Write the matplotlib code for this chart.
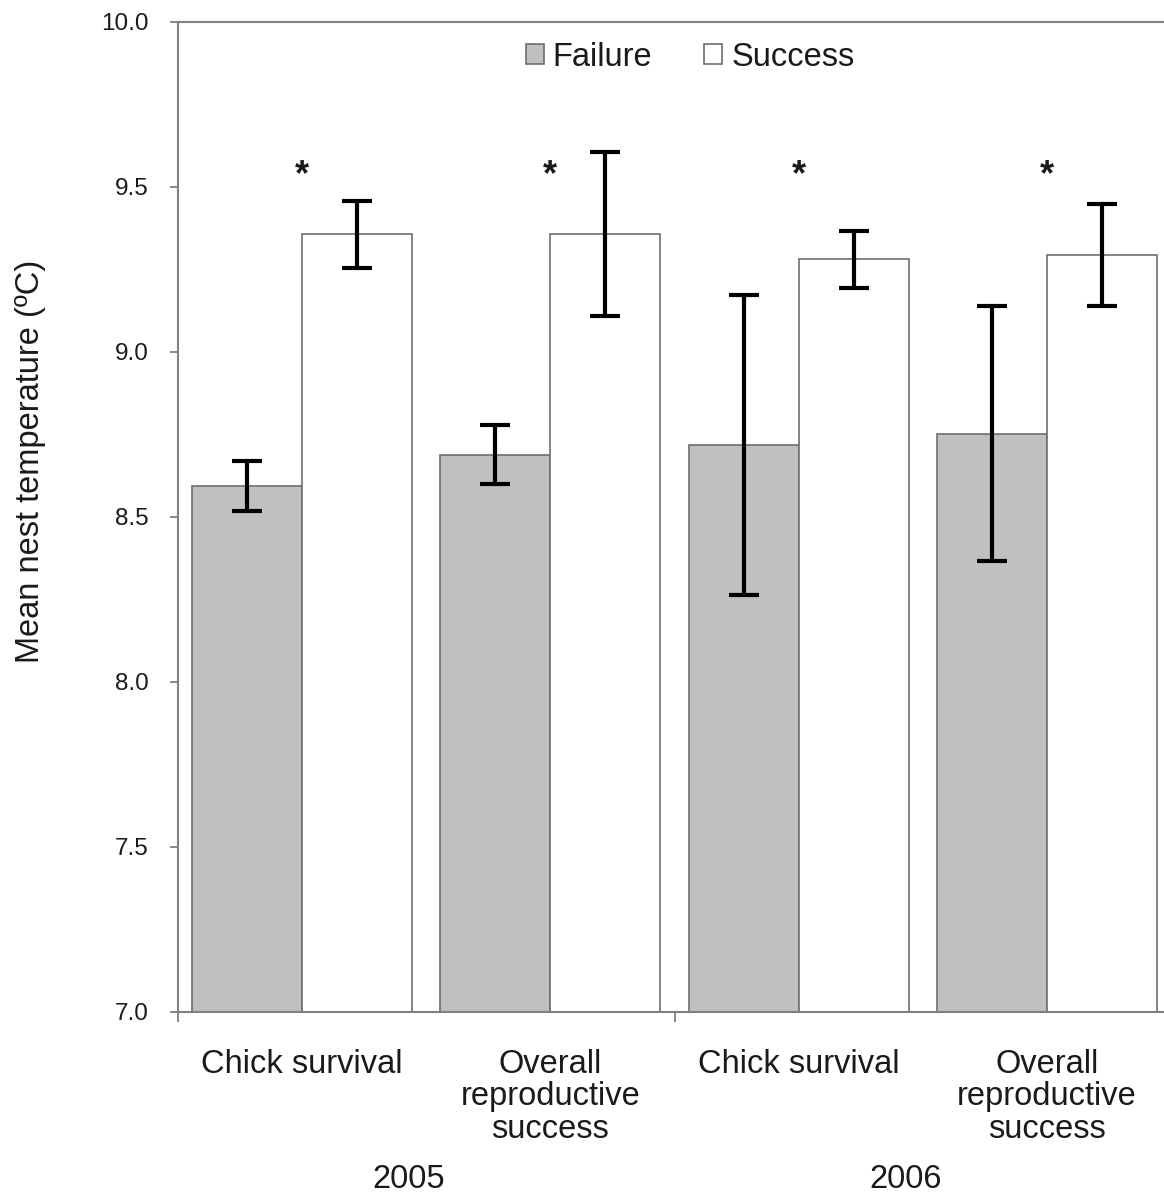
import matplotlib
matplotlib.use('Agg')
import matplotlib.pyplot as plt
import matplotlib.transforms as mtransforms
import numpy as np

plt.rcParams['font.family'] = ['Liberation Sans', 'DejaVu Sans']

# data
categories = ['Chick survival', 'Overall\nreproductive\nsuccess',
              'Chick survival', 'Overall\nreproductive\nsuccess']
years = ['2005', '2006']
failure = [8.594, 8.689, 8.718, 8.752]
failure_se = [0.075, 0.089, 0.455, 0.386]
success = [9.357, 9.357, 9.281, 9.293]
success_se = [0.102, 0.249, 0.087, 0.154]
significant = [True, True, True, True]

txt = '#1a1a1a'
fig = plt.figure(figsize=(11.64, 11.94), dpi=100)
ax = fig.add_axes([178/1164, 182/1194, 993/1164, 990/1194])

x = np.arange(len(categories))
w = 0.443
ekw = dict(ecolor='black', elinewidth=3.0, capsize=11, capthick=3.0)
ax.bar(x - w/2, failure, w, yerr=failure_se, color='#c0c0c0',
       edgecolor='#6e6e6e', linewidth=1.2, error_kw=ekw, label='Failure')
ax.bar(x + w/2, success, w, yerr=success_se, color='white',
       edgecolor='#6e6e6e', linewidth=1.2, error_kw=ekw, label='Success')

for i, s in enumerate(significant):
    if s:
        ax.text(x[i], 9.505, '*', ha='center', va='baseline', fontsize=26,
                fontweight='bold', color=txt)

ax.set_xlim(-0.5, 3.5)
ax.set_ylim(7.0, 10.0)
ax.set_yticks(np.arange(7.0, 10.01, 0.5))
ax.set_yticklabels(['%.1f' % v for v in np.arange(7.0, 10.01, 0.5)])

ax.set_xticks([-0.5, 1.5, 3.5])
ax.set_xticklabels(['', '', ''])
ax.set_xticks(x, minor=True)
ax.set_xticklabels(categories, minor=True)
for lbl in ax.get_xticklabels(minor=True):
    lbl.set_linespacing(1.07)

ax.tick_params(axis='y', length=6, width=1.3, color='#808080', pad=15,
               labelsize=17.5, labelcolor=txt)
ax.tick_params(axis='x', which='major', length=7.5, width=1.3, color='#808080')
ax.tick_params(axis='x', which='minor', length=0, pad=26.5, labelsize=23.5,
               labelcolor=txt)

for side in ['left', 'bottom', 'top']:
    ax.spines[side].set_color('#808080')
    ax.spines[side].set_linewidth(1.5)
ax.spines['right'].set_visible(False)

trans = mtransforms.blended_transform_factory(ax.transData, fig.transFigure)
year_pos = [0.43, 2.43]
for yp, yr in zip(year_pos, years):
    ax.text(yp, 6/1194, yr, transform=trans, ha='center', va='baseline',
            fontsize=23.5, color=txt)

fig.text(31/1164, 1 - 461/1194, 'Mean nest temperature (ºC)', rotation=90,
         ha='center', va='center', fontsize=23.5, color=txt)

ax.legend(loc='center', bbox_to_anchor=(690/1164, 1 - 57/1194),
          bbox_transform=fig.transFigure, ncol=2, frameon=False,
          fontsize=23.5, handlelength=0.55, handleheight=0.55,
          handletextpad=0.27, columnspacing=1.6, borderpad=0.2,
          labelcolor=txt)

fig.savefig('out.png', dpi=100)
